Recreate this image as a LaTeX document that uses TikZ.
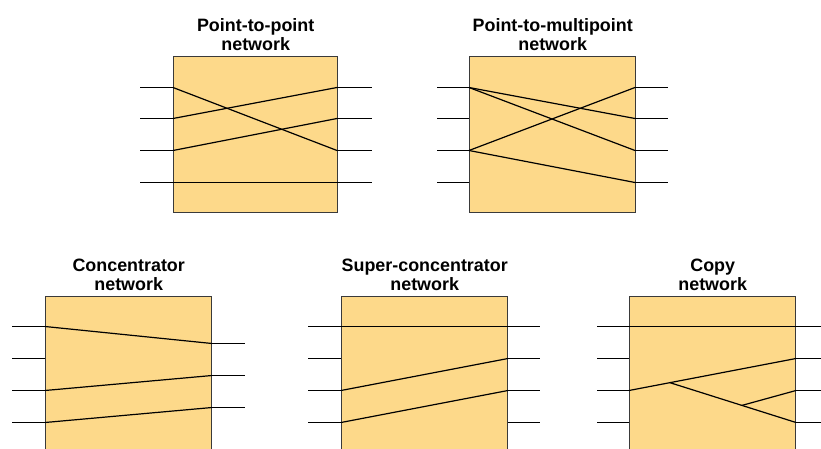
\documentclass[tikz,border=0pt]{standalone}
\usepackage{fontspec}
\setmainfont{Liberation Sans}
\usepackage{tikz}
\usetikzlibrary{positioning,calc}

\definecolor{boxfill}{HTML}{FDD98A}
\definecolor{boxline}{HTML}{3A3A3A}

\begin{document}
\begin{tikzpicture}[
  x=1pt, y=-1pt,
  netbox/.style={rectangle, draw=boxline, fill=boxfill, line width=1.4pt, minimum width=166pt, minimum height=170pt, inner sep=0pt, anchor=north west},
  shortbox/.style={netbox, minimum width=164pt, minimum height=156pt},
  title/.style={font=\bfseries\fontsize{17.9}{19}\selectfont, align=center, inner sep=3pt},
  wire/.style={line width=1.2pt, black},
]
\clip (0,0) rectangle (821,449);

% Boxes
\node[shortbox] (ptp) at (173,56) {};
\node[netbox, minimum height=156pt] (ptm) at (469,56) {};
\node[netbox] (conc) at (45,296) {};
\node[netbox] (sconc) at (341,296) {};
\node[netbox] (copy) at (629,296) {};

% Titles
\node[title, above=2pt of ptp] {Point-to-point\\network};
\node[title, above=2pt of ptm] {Point-to-multipoint\\network};
\node[title, above=2pt of conc] {Concentrator\\network};
\node[title, above=2pt of sconc] {Super-concentrator\\network};
\node[title, above=2pt of copy] {Copy\\network};

% Ports and stubs, top row
\foreach \i/\y in {1/87.5, 2/118.5, 3/150.5, 4/182.5} {
  \coordinate (ptp-l\i) at (173,\y);
  \coordinate (ptp-r\i) at (337,\y);
  \coordinate (ptm-l\i) at (469,\y);
  \coordinate (ptm-r\i) at (635,\y);
  \draw[wire] (ptp-l\i) -- ++(-33,0);
  \draw[wire] (ptp-r\i) -- ++(35,0);
  \draw[wire] (ptm-l\i) -- ++(-32,0);
  \draw[wire] (ptm-r\i) -- ++(33,0);
}

% Ports and stubs, bottom row
\foreach \i/\y in {1/326.5, 2/358.5, 3/390.5, 4/422.5} {
  \coordinate (conc-l\i) at (45,\y);
  \coordinate (sconc-l\i) at (341,\y);
  \coordinate (sconc-r\i) at (508,\y);
  \coordinate (copy-l\i) at (629,\y);
  \coordinate (copy-r\i) at (796,\y);
  \draw[wire] (conc-l\i) -- ++(-33,0);
  \draw[wire] (sconc-l\i) -- ++(-33,0);
  \draw[wire] (sconc-r\i) -- ++(32,0);
  \draw[wire] (copy-l\i) -- ++(-32,0);
  \draw[wire] (copy-r\i) -- ++(32,0);
}
\foreach \i/\y in {1/343.5, 2/375.5, 3/407.5} {
  \coordinate (conc-r\i) at (212,\y);
  \draw[wire] (conc-r\i) -- ++(33,0);
}

% Point-to-point
\draw[wire] (ptp-l1) -- (ptp-r3);
\draw[wire] (ptp-l2) -- (ptp-r1);
\draw[wire] (ptp-l3) -- (ptp-r2);
\draw[wire] (ptp-l4) -- (ptp-r4);

% Point-to-multipoint
\draw[wire] (ptm-l1) -- (ptm-r2);
\draw[wire] (ptm-l1) -- (ptm-r3);
\draw[wire] (ptm-l3) -- (ptm-r1);
\draw[wire] (ptm-l3) -- (ptm-r4);

% Concentrator
\draw[wire] (conc-l1) -- (conc-r1);
\draw[wire] (conc-l3) -- (conc-r2);
\draw[wire] (conc-l4) -- (conc-r3);

% Super-concentrator
\draw[wire] (sconc-l1) -- (sconc-r1);
\draw[wire] (sconc-l3) -- (sconc-r2);
\draw[wire] (sconc-l4) -- (sconc-r3);

% Copy
\coordinate (copy-s1) at ($(copy-l3)!0.245!(copy-r2)$);
\coordinate (copy-s2) at ($(copy-s1)!0.571!(copy-r4)$);
\draw[wire] (copy-l1) -- (copy-r1);
\draw[wire] (copy-l3) -- (copy-r2);
\draw[wire] (copy-s1) -- (copy-r4);
\draw[wire] (copy-s2) -- (copy-r3);

\end{tikzpicture}
\end{document}
